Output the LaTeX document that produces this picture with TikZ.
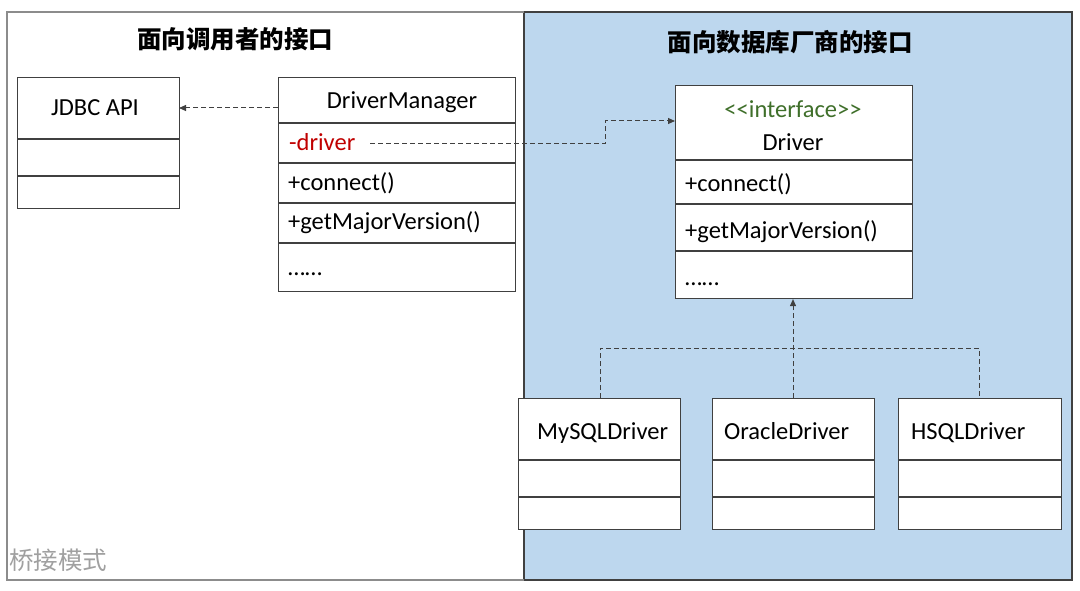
\documentclass[tikz,border=0pt]{standalone}
\usepackage{fontspec}
\setmainfont{Carlito}
\newfontfamily\cjk{Noto Sans CJK SC}
\usetikzlibrary{arrows.meta}
\definecolor{bluebg}{HTML}{BDD7EE}
\definecolor{boxline}{HTML}{404040}
\definecolor{redtxt}{HTML}{C00000}
\definecolor{greentxt}{HTML}{3F6F2A}
\definecolor{graytxt}{HTML}{A0A0A0}
\tikzset{
  umlbox/.style={draw=boxline, line width=1.1pt, fill=white, anchor=north west, inner sep=0pt},
  sep/.style={draw=boxline, line width=1.1pt},
  lbl/.style={inner sep=0pt, text height=16pt, text depth=5pt, font=\fontsize{24.5}{28}\selectfont},
  lft/.style={lbl, anchor=west},
  title/.style={inner sep=0pt, font=\cjk\bfseries\fontsize{24.5}{28}\selectfont},
  conn/.style={draw=boxline, line width=1pt, dash pattern=on 5pt off 3pt,
     -{Triangle[length=7pt,width=6pt]}},
  connline/.style={draw=boxline, line width=1pt, dash pattern=on 5pt off 3pt},
}
\begin{document}
\begin{tikzpicture}[x=1pt,y=-1pt]
\useasboundingbox (0,0) rectangle (1080,591);
% frames
\draw[draw=gray!90, line width=1.2pt, fill=white] (7,12) rectangle (1072,580);
\draw[draw=boxline, line width=1.1pt, fill=bluebg] (524,12) rectangle (1072,580);
\draw[draw=gray!90, line width=1.2pt] (7,12) -- (524,12) (7,12) -- (7,580) -- (524,580);
% titles
\node[title] (t1) at (235,39) {面向调用者的接口};
\node[title] (t2) at (790,42) {面向数据库厂商的接口};
\node[inner sep=0pt, anchor=west, text=graytxt, font=\cjk\fontsize{24.5}{28}\selectfont] (t3) at (9,560) {桥接模式};
% JDBC API
\node[umlbox, minimum width=162pt, minimum height=131pt] (jdbc) at (17,77) {};
\draw[sep] (17,139) -- (179,139) (17,176) -- (179,176);
\node[lbl] (jdbct) at (95,110) {JDBC API};
% DriverManager
\node[umlbox, minimum width=237pt, minimum height=214pt] (dm) at (278,77) {};
\draw[sep] (278,123) -- (515,123) (278,163) -- (515,163) (278,203) -- (515,203) (278,243) -- (515,243);
\node[lbl] (dmt) at (402,103) {DriverManager};
\node[lft, text=redtxt] (dmf) at (289,145) {-driver};
\node[lft] (dm1) at (288,185) {+connect()};
\node[lft] (dm2) at (288,224) {+getMajorVersion()};
\node[lft] (dm3) at (288,270) {……};
% Driver interface
\node[umlbox, minimum width=237pt, minimum height=213pt] (drv) at (675,85) {};
\draw[sep] (675,160) -- (912,160) (675,204) -- (912,204) (675,251) -- (912,251);
\node[lbl, text=greentxt] (drvs) at (793,112) {<{}<interface>{}>};
\node[lbl] (drvt) at (793,145) {Driver};
\node[lft] (drv1) at (685,186) {+connect()};
\node[lft] (drv2) at (685,233) {+getMajorVersion()};
\node[lft] (drv3) at (685,280) {……};
% concrete drivers
\node[umlbox, minimum width=162pt, minimum height=131pt] (my) at (518,398) {};
\node[umlbox, minimum width=162pt, minimum height=131pt] (ora) at (712,398) {};
\node[umlbox, minimum width=163pt, minimum height=131pt] (hs) at (898,398) {};
\draw[sep] (518,460) -- (680,460) (518,497) -- (680,497);
\draw[sep] (712,460) -- (874,460) (712,497) -- (874,497);
\draw[sep] (898,460) -- (1061,460) (898,497) -- (1061,497);
\node[lft] (myt) at (537,434) {MySQLDriver};
\node[lft] (orat) at (724,434) {OracleDriver};
\node[lft] (hst) at (911,434) {HSQLDriver};
% connectors
\coordinate (a1) at (278,108);
\coordinate (a2) at (179,108);
\draw[conn] (a1) -- (a2);
\coordinate (b0) at (370,144);
\coordinate (b1) at (605,144);
\coordinate (b2) at (675,121);
\draw[conn] (b0) -- (b1) |- (b2);
\coordinate (c1) at (600,348);
\coordinate (c3) at (979,348);
\draw[connline] (my.north -| c1) -- (c1) -- (c3) -- (hs.north -| c3);
\draw[conn] (ora.north -| 793,0) -- (drv.south -| 793,0);
\end{tikzpicture}
\end{document}
